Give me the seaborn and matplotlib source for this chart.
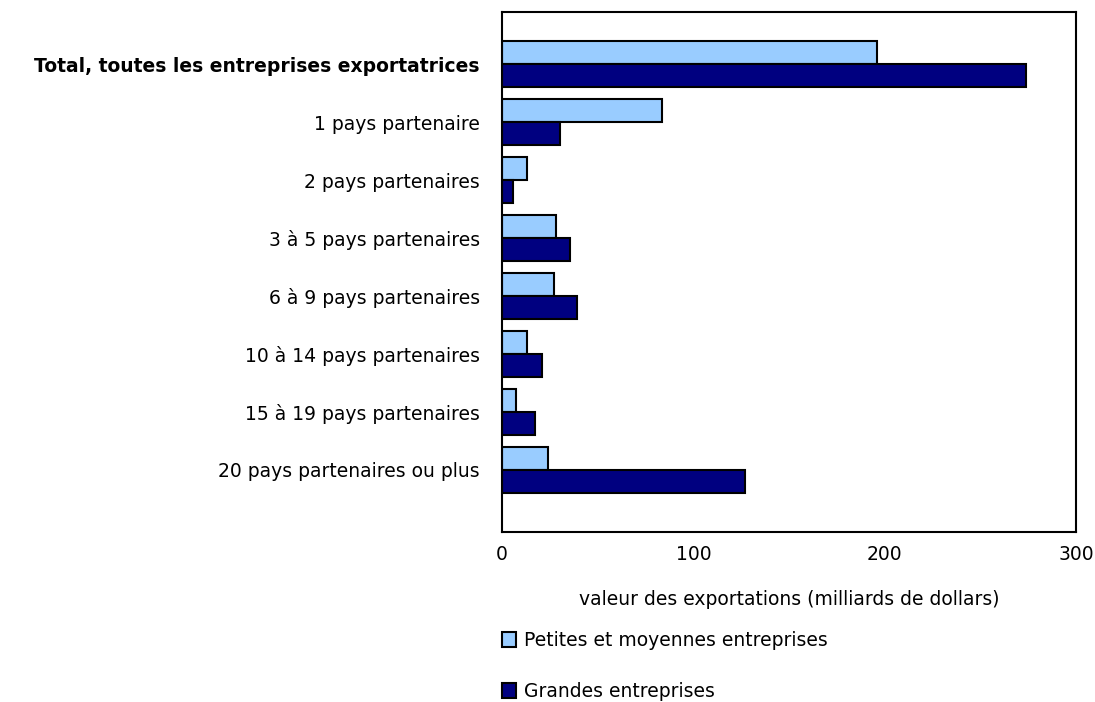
import matplotlib

matplotlib.use("Agg")
import matplotlib.pyplot as plt
import pandas as pd
import seaborn as sns

CATEGORIES = [
    "Total, toutes les entreprises exportatrices",
    "1 pays partenaire",
    "2 pays partenaires",
    "3 à 5 pays partenaires",
    "6 à 9 pays partenaires",
    "10 à 14 pays partenaires",
    "15 à 19 pays partenaires",
    "20 pays partenaires ou plus",
]
PME = [195.9, 83.5, 12.9, 28.2, 27.3, 12.9, 7.3, 24.2]
GRANDES = [273.9, 30.2, 5.6, 35.4, 39.4, 20.7, 17.2, 127.0]
SERIES = ["Petites et moyennes entreprises", "Grandes entreprises"]
COLORS = ["#99ccff", "#000080"]

df = pd.DataFrame(
    {
        "categorie": CATEGORIES * 2,
        "valeur": PME + GRANDES,
        "serie": [SERIES[0]] * len(CATEGORIES) + [SERIES[1]] * len(CATEGORIES),
    }
)

sns.set_theme(style="white")
plt.rcParams["font.family"] = ["DejaVu Sans"]
plt.rcParams["text.color"] = "black"

FS = 13.5

fig = plt.figure(figsize=(10.95, 7.02), dpi=100)
ax = fig.add_axes([502 / 1095, 1 - 532 / 702, (1076 - 502) / 1095, (532 - 12) / 702])

sns.barplot(
    data=df,
    x="valeur",
    y="categorie",
    hue="serie",
    palette=COLORS,
    saturation=1,
    order=CATEGORIES,
    hue_order=SERIES,
    width=0.8,
    edgecolor="black",
    linewidth=1.5,
    orient="h",
    ax=ax,
)

ax.set_xlim(0, 300)
ax.set_ylim(8.07, -0.9)
ax.set_xticks([0, 100, 200, 300])
ax.tick_params(axis="x", direction="in", length=7, width=1.2, pad=9, labelsize=FS,
               color="black", labelcolor="black")
ax.tick_params(axis="y", length=0, pad=16, labelsize=FS, labelcolor="black")
ax.get_yticklabels()[0].set_fontweight("bold")

for side in ["left", "right", "top", "bottom"]:
    ax.spines[side].set_visible(True)
    ax.spines[side].set_color("black")
    ax.spines[side].set_linewidth(1.5)

ax.set_ylabel("")
ax.set_xlabel("valeur des exportations (milliards de dollars)", fontsize=FS, labelpad=19, color="black")

handles, labels = ax.get_legend_handles_labels()
leg = ax.legend(
    handles,
    labels,
    loc="upper left",
    bbox_to_anchor=(0, -0.19),
    frameon=False,
    fontsize=FS,
    handlelength=0.75,
    handleheight=0.85,
    handletextpad=0.4,
    labelspacing=1.7,
    borderaxespad=0,
    borderpad=0,
)
for t in leg.get_texts():
    t.set_color("black")

fig.savefig("out.png", dpi=100)
